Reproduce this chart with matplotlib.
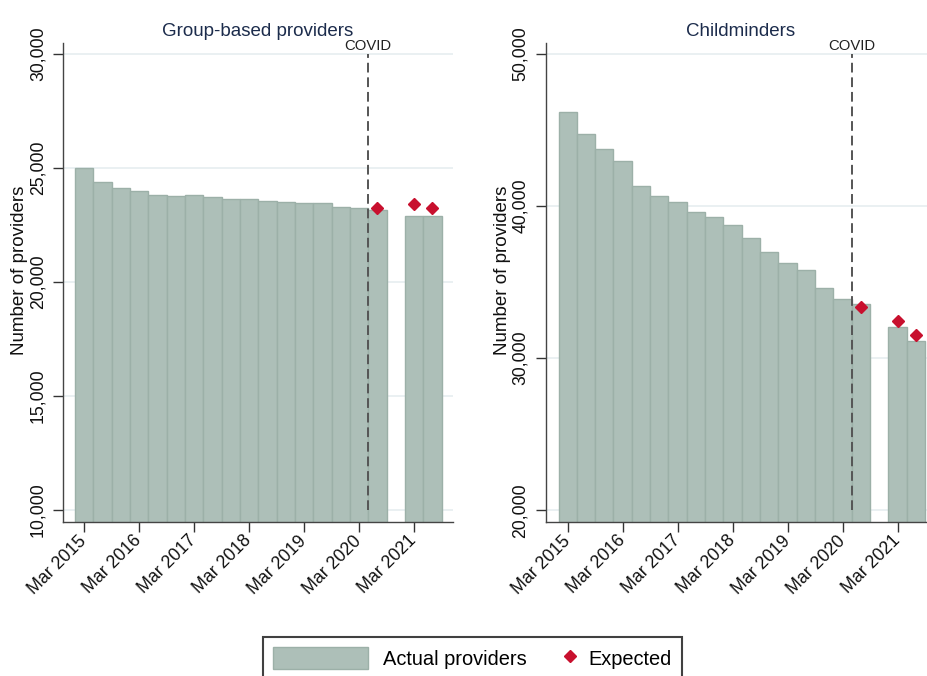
import numpy as np
import matplotlib
matplotlib.use("Agg")
import matplotlib.pyplot as plt
from matplotlib.legend_handler import HandlerLine2D
from matplotlib.lines import Line2D
from matplotlib.patches import Patch

plt.rcParams['font.family'] = ['Liberation Sans', 'DejaVu Sans']

# termly observations, Mar 2015 .. Jul 2021 (Nov 2020 missing)
periods = ["Mar 2015", "Jul 2015", "Nov 2015", "Mar 2016", "Jul 2016", "Nov 2016",
           "Mar 2017", "Jul 2017", "Nov 2017", "Mar 2018", "Jul 2018", "Nov 2018",
           "Mar 2019", "Jul 2019", "Nov 2019", "Mar 2020", "Jul 2020", "Nov 2020",
           "Mar 2021", "Jul 2021"]
months_after_start = np.arange(len(periods)) * 4

group_actual = [25000, 24370, 24140, 23990, 23820, 23770, 23820, 23740, 23650, 23650,
                23570, 23530, 23480, 23450, 23300, 23250, 23160, np.nan, 22880, 22910]
child_actual = [46190, 44720, 43740, 42970, 41330, 40680, 40290, 39630, 39260, 38730,
                37900, 36960, 36260, 35800, 34600, 33880, 33590, np.nan, 32080, 31130]

expected_periods = ["Jul 2020", "Mar 2021", "Jul 2021"]
group_expected = [23240, 23440, 23250]
child_expected = [33380, 32420, 31520]

tick_labels = ["Mar 2015", "Mar 2016", "Mar 2017", "Mar 2018", "Mar 2019", "Mar 2020", "Mar 2021"]
tick_months = [0, 12, 24, 36, 48, 60, 72]
covid_month = 62

bar_color = '#adbfb8'
bar_edge = '#9cb0a8'
red = '#c8102e'
navy = '#1c2c4c'

fig = plt.figure(figsize=(9.28, 6.76), dpi=100)
W, H = 928, 676


def add_axes_px(x0, x1, y_top, y_bot):
    return fig.add_axes([x0 / W, 1 - y_bot / H, (x1 - x0) / W, (y_bot - y_top) / H])


panels = [
    dict(ax=add_axes_px(63, 453, 42.7, 521.7), title="Group-based providers",
         actual=group_actual, expected=group_expected, ylim=(9490, 30500),
         yticks=[10000, 15000, 20000, 25000, 30000], xlim=(-4.63, 80.5)),
    dict(ax=add_axes_px(545.7, 936, 42.7, 521.7), title="Childminders",
         actual=child_actual, expected=child_expected, ylim=(19250, 50740),
         yticks=[20000, 30000, 40000, 50000], xlim=(-4.8, 80.4)),
]

exp_x = [months_after_start[periods.index(p)] for p in expected_periods]

for p in panels:
    ax = p['ax']
    ax.set_axisbelow(True)
    ax.bar(months_after_start, p['actual'], width=4, color=bar_color,
           edgecolor=bar_edge, linewidth=1, zorder=2)
    ax.plot(exp_x, p['expected'], linestyle='none', marker='D', markersize=6,
            color=red, zorder=4)
    ymin, ymax = p['yticks'][0], p['yticks'][-1]
    ax.vlines(covid_month, ymin, ymax, colors='#555555', linestyles=(0, (5, 2.5)),
              linewidth=1.4, zorder=3)
    ax.annotate("COVID", (covid_month, ymax), xytext=(0, 3), textcoords='offset points',
                ha='center', va='baseline', fontsize=10.7, color='#222222')
    ax.set_xlim(*p['xlim'])
    ax.set_ylim(*p['ylim'])
    ax.set_yticks(p['yticks'])
    ax.set_yticklabels(["{:,}".format(v) for v in p['yticks']])
    ax.set_xticks(tick_months)
    ax.set_xticklabels(tick_labels, rotation=45, ha='right', va='center',
                       rotation_mode='anchor')
    for lab in ax.get_yticklabels():
        lab.set_rotation(90)
        lab.set_va('center')
    ax.tick_params(axis='both', labelsize=12.7, colors='#333333', labelcolor='#111111',
                   length=7, width=1)
    ax.tick_params(axis='y', pad=5)
    ax.tick_params(axis='x', pad=5)
    ax.grid(axis='y', color='#e6eef0', linewidth=1.2)
    for s in ['top', 'right']:
        ax.spines[s].set_visible(False)
    for s in ['left', 'bottom']:
        ax.spines[s].set_color('#444444')
        ax.spines[s].set_linewidth(1)
    ax.set_title(p['title'], fontsize=13.5, color=navy, pad=5)
    ax.set_ylabel("Number of providers", fontsize=13.5, color='#111111', va='center')
    ax.yaxis.set_label_coords(-43.5 / 390, 0.525)


class RightMarkerHandler(HandlerLine2D):
    # puts the diamond near the right end of the handle box
    def create_artists(self, legend, orig_handle, xdescent, ydescent, width, height,
                       fontsize, trans):
        arts = super().create_artists(legend, orig_handle, xdescent, ydescent, width,
                                      height, fontsize, trans)
        xm = -xdescent + width - 3
        for a in arts:
            a.set_xdata([xm - 1, xm, xm + 1])
        return arts


bar_handle = Patch(facecolor=bar_color, edgecolor=bar_edge, linewidth=1)
exp_handle = Line2D([], [], linestyle='none', marker='D', markersize=6, color=red)
leg = fig.legend([bar_handle, exp_handle], ["Actual providers", "Expected"],
                 loc='upper center', bbox_to_anchor=(472.5 / W, 1 - 637 / H),
                 ncol=2, fontsize=14.4, frameon=True, fancybox=False,
                 edgecolor='#111111', handlelength=4.75, handleheight=1.3,
                 handletextpad=0.75, columnspacing=-2.4, borderpad=0.5,
                 borderaxespad=0,
                 handler_map={exp_handle: RightMarkerHandler()})
leg.get_frame().set_linewidth(1.5)

fig.savefig("out.png", dpi=100)
